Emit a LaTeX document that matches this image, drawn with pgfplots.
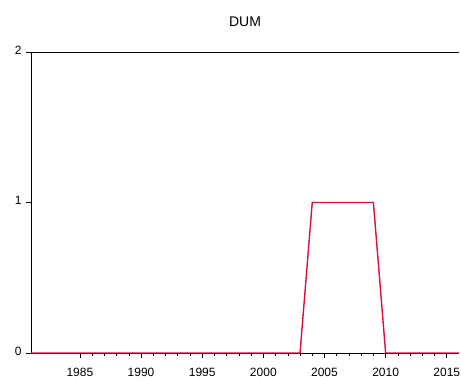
\documentclass[border=0pt]{standalone}
\usepackage{pgfplots}
\pgfplotsset{compat=1.18}
\usepackage{fontspec}
\setmainfont{Liberation Sans}
\definecolor{evred}{RGB}{228,10,60}
\begin{document}
\begin{tikzpicture}[x=1pt,y=1pt]
\useasboundingbox (0,0) rectangle (461,380);
\begin{axis}[
  at={(31pt,27pt)}, anchor=south west,
  scale only axis, width=428pt, height=301pt,
  xmin=1981, xmax=2016, ymin=0, ymax=2,
  axis lines=left, axis line style={-, black, line width=0.7pt},
  xtick={1985,1990,...,2015}, minor x tick num=4,
  ytick={0,1,2},
  tick align=outside,
  major tick length=5pt, minor tick length=3pt,
  tick style={black, line width=0.6pt},
  xticklabel style={font=\fontsize{12}{13}\selectfont, yshift=-7pt},
  yticklabel style={font=\fontsize{12}{13}\selectfont, yshift=2pt, xshift=-1pt},
  x tick label style={/pgf/number format/.cd, 1000 sep={}},
  /pgf/number format/assume math mode=true,
  title={DUM}, title style={font=\fontsize{14}{15}\selectfont, yshift=16pt},
  clip=false,
]
\addplot[evred, line width=1.4pt, line join=miter] coordinates {
(1981,0)(1982,0)(1983,0)(1984,0)(1985,0)(1986,0)(1987,0)(1988,0)(1989,0)(1990,0)
(1991,0)(1992,0)(1993,0)(1994,0)(1995,0)(1996,0)(1997,0)(1998,0)(1999,0)(2000,0)
(2001,0)(2002,0)(2003,0)(2004,1)(2005,1)(2006,1)(2007,1)(2008,1)(2009,1)(2010,0)
(2011,0)(2012,0)(2013,0)(2014,0)(2015,0)(2016,0)};
\draw[black, line width=0.7pt] (rel axis cs:0,1) -- (rel axis cs:1,1);
\end{axis}
\end{tikzpicture}
\end{document}
